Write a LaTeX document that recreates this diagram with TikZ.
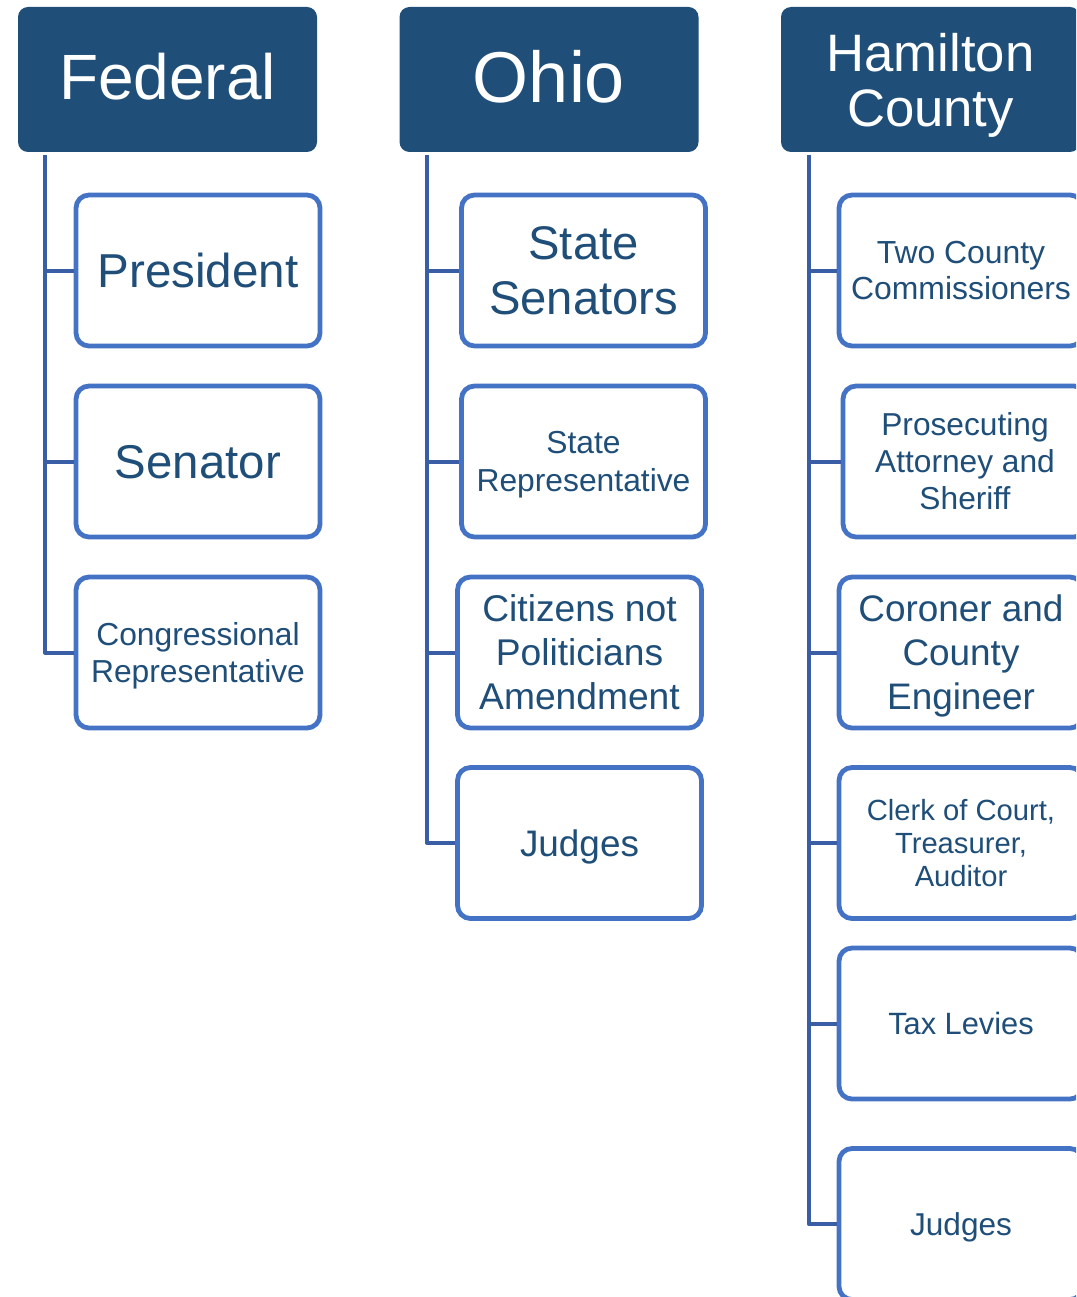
\documentclass[tikz,border=0pt]{standalone}
\usepackage{fontspec}
\setmainfont{Liberation Sans}
\definecolor{hdr}{RGB}{31,78,121}
\definecolor{bord}{RGB}{68,114,196}
\definecolor{conn}{RGB}{58,94,165}
\definecolor{txt}{RGB}{31,78,121}
\newcommand{\fs}[2]{\fontsize{#1}{#2}\selectfont}
\tikzset{
 hdrbox/.style={fill=hdr, rounded corners=10pt, text=white, minimum width=299pt, minimum height=145pt, inner sep=0pt, align=center},
 childbox/.style={draw=bord, line width=4.8pt, fill=white, rounded corners=13pt, text=txt, minimum width=244pt, minimum height=151pt, inner sep=0pt, align=center},
 conline/.style={draw=conn, line width=4pt, line join=round}
}
\begin{document}
\begin{tikzpicture}[x=1pt,y=-1pt]
\clip (0,0) rectangle (1076,1297);
\fill[white] (0,0) rectangle (1076,1297);
% headers
\node[hdrbox, font=\fs{64}{70}, text depth=6pt] (fed) at (167.5,79.5) {Federal};
\node[hdrbox, font=\fs{72}{80}, text depth=6pt] (ohio) at (549,79.5) {Ohio};
\node[hdrbox, font=\fs{52.7}{55}] (ham) at (930.5,79.5) {Hamilton\\\smash{County}};
% federal children
\node[childbox, font=\fs{47.6}{55}, text depth=0pt] (pres) at (198,270.5) {President};
\node[childbox, font=\fs{47.4}{55}, text depth=0pt] (sen) at (198,461.5) {Senator};
\node[childbox, font=\fs{31.8}{37}] (cong) at (198,652.5) {Congressional\\\smash{Representative}};
% ohio children
\node[childbox, font=\fs{47.2}{55}] (ssen) at (583.5,270.5) {State\\Senators};
\node[childbox, font=\fs{31.8}{38}] (srep) at (583.5,461.5) {State\\\smash{Representative}};
\node[childbox, font=\fs{37.2}{44}] (cnp) at (579.5,652.5) {Citizens not\\Politicians\\Amendment};
\node[childbox, font=\fs{36.9}{44}, text depth=0pt] (ojud) at (579.5,843) {Judges};
% hamilton children
\node[childbox, font=\fs{31.9}{36}] (comm) at (961,270.5) {Two County\\Commissioners};
\node[childbox, font=\fs{31.7}{37}] (pros) at (965,461.5) {Prosecuting\\Attorney and\\Sheriff};
\node[childbox, font=\fs{36.9}{44}] (cor) at (961,652.5) {Coroner and\\County\\\smash{Engineer}};
\node[childbox, font=\fs{29.2}{33}] (clerk) at (961,843) {Clerk of Court,\\Treasurer,\\Auditor};
\node[childbox, font=\fs{30.8}{36}, text depth=0pt] (tax) at (961,1023.5) {Tax Levies};
\node[childbox, font=\fs{31.6}{36}, text depth=0pt] (hjud) at (961,1224) {Judges};
% connectors
\draw[conline] ([xshift=27pt,yshift=-3pt]fed.south west) |- (pres.west);
\draw[conline] ([xshift=27pt,yshift=-3pt]fed.south west) |- (sen.west);
\draw[conline] ([xshift=27pt,yshift=-3pt]fed.south west) |- (cong.west);
\draw[conline] ([xshift=28pt,yshift=-3pt]ohio.south west) |- (ssen.west);
\draw[conline] ([xshift=28pt,yshift=-3pt]ohio.south west) |- (srep.west);
\draw[conline] ([xshift=28pt,yshift=-3pt]ohio.south west) |- (cnp.west);
\draw[conline] ([xshift=28pt,yshift=-3pt]ohio.south west) |- (ojud.west);
\draw[conline] ([xshift=28pt,yshift=-3pt]ham.south west) |- (comm.west);
\draw[conline] ([xshift=28pt,yshift=-3pt]ham.south west) |- (pros.west);
\draw[conline] ([xshift=28pt,yshift=-3pt]ham.south west) |- (cor.west);
\draw[conline] ([xshift=28pt,yshift=-3pt]ham.south west) |- (clerk.west);
\draw[conline] ([xshift=28pt,yshift=-3pt]ham.south west) |- (tax.west);
\draw[conline] ([xshift=28pt,yshift=-3pt]ham.south west) |- (hjud.west);
\end{tikzpicture}
\end{document}
